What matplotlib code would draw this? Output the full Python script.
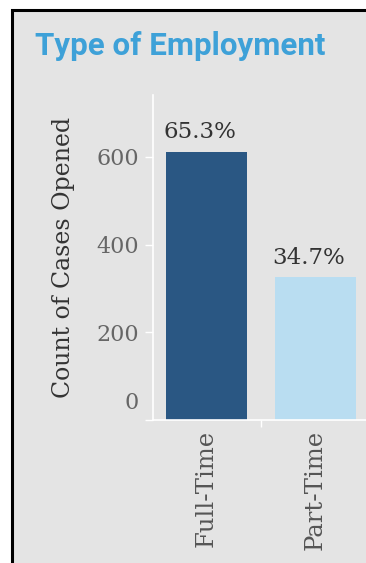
import matplotlib
matplotlib.use("Agg")
from matplotlib import pyplot as plt
from matplotlib.patches import Rectangle
from matplotlib.transforms import ScaledTranslation
import numpy as np

# data
categories = ["Full-Time", "Part-Time"]
counts = [612, 325]
pct_labels = ["65.3%", "34.7%"]
bar_colors = ["#2a5783", "#b9ddf1"]
yticks = [0, 200, 400, 600]

W, H = 366, 563
fig = plt.figure(figsize=(W / 100, H / 100), dpi=100)
fig.patch.set_facecolor("white")

# grey panel with black border on left/top
panel = Rectangle((11.5 / W, -0.1), 1.2, 1 - 9.5 / H + 0.1, transform=fig.transFigure,
                  facecolor="#e4e4e4", edgecolor="black", linewidth=2.2, zorder=-5)
fig.patches.append(panel)

fig.text(35 / W, 1 - 55 / H, "Type of Employment", color="#3ea1d8",
         fontsize=22.5, fontweight="bold", family="Roboto", va="baseline", ha="left")

ax = fig.add_axes([153 / W, 143 / H, (W - 153) / W, (420 - 95) / H])
ax.set_facecolor("none")
x = np.arange(len(categories))
ax.bar(x, counts, width=0.743, color=bar_colors, zorder=2)
ax.set_xlim(-0.49, 1.463)
ax.set_ylim(0, 741)

serif = "DejaVu Serif"
for xi, c, lab in zip(x, counts, pct_labels):
    ax.annotate(lab, (xi, c), xytext=(-5, 6), textcoords="offset points",
                ha="center", va="bottom", fontsize=16.5, family=serif, color="#333333")

for s in ["top", "right"]:
    ax.spines[s].set_visible(False)
for s in ["left", "bottom"]:
    ax.spines[s].set_color("white")
    ax.spines[s].set_linewidth(1.2)

ax.set_yticks(yticks)
ax.set_yticklabels([str(v) for v in yticks], family=serif, fontsize=16, color="#666666")
ax.tick_params(axis="y", colors="white", length=6, width=1, pad=4, labelcolor="#666666")
zero = ax.get_yticklabels()[0]
zero.set_va("bottom")
zero.set_transform(zero.get_transform() + ScaledTranslation(0, 4 / 72, fig.dpi_scale_trans))

ax.set_xticks(x)
ax.set_xticklabels(categories, rotation=90, family=serif, fontsize=17.5, color="#555555",
                   va="top", ha="center")
ax.tick_params(axis="x", length=0, pad=7)
ax.set_xticks([0.5], minor=True)
ax.tick_params(axis="x", which="minor", length=5, width=1, colors="white")

ax.set_ylabel("Count of Cases Opened", family=serif, fontsize=17, color="#333333")
ax.yaxis.set_label_coords((75 - 153) / (W - 153), 0.5)

fig.savefig("out.png", dpi=100, facecolor=fig.get_facecolor())
